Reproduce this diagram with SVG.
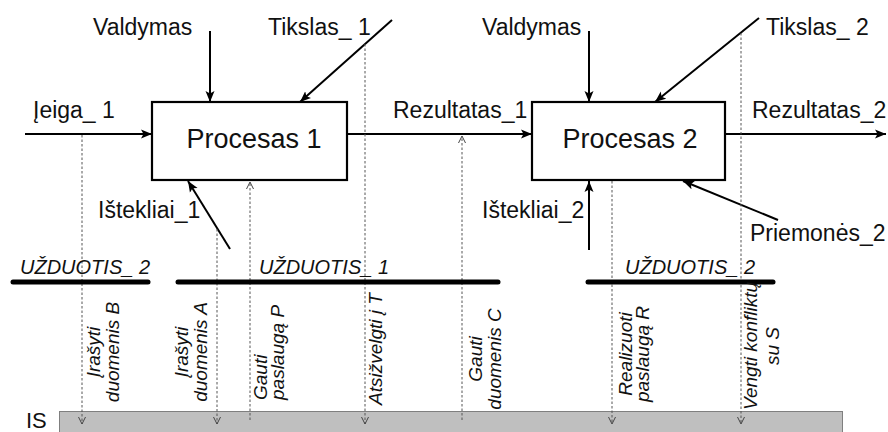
<svg xmlns="http://www.w3.org/2000/svg" width="888" height="432" viewBox="0 0 888 432">
<style>
.lbl{font-family:"Liberation Sans",Arial,sans-serif;font-size:23px;fill:#111}
.proc{font-family:"Liberation Sans",Arial,sans-serif;font-size:27px;fill:#111}
.task{font-family:"Liberation Sans",Arial,sans-serif;font-size:20px;font-style:italic;fill:#111}
.vt{font-family:"Liberation Sans",Arial,sans-serif;font-size:19px;font-style:italic;fill:#111}
.ln{stroke:#000;stroke-width:2;fill:none}
.box{stroke:#000;stroke-width:2.2;fill:#fff}
.ds{stroke:#555;stroke-width:1;stroke-dasharray:2.5 2;fill:none}
.bar{stroke:#000;stroke-width:5;stroke-linecap:round}
</style>
<defs>
<marker id="ah" markerWidth="12" markerHeight="10" refX="11" refY="5" orient="auto" markerUnits="userSpaceOnUse"><path d="M0,0.5 L11,5 L0,9.5 L2.5,5 z" fill="#000"/></marker>
<marker id="va" markerWidth="10" markerHeight="10" refX="7" refY="4" orient="auto" markerUnits="userSpaceOnUse"><path d="M0,0.5 L7,4 L0,7.5" fill="none" stroke="#444" stroke-width="1"/></marker>
</defs>
<rect width="888" height="432" fill="#fff"/>
<g id="is">
<rect x="59.5" y="411.5" width="783" height="30" fill="#bfbfbf" stroke="#7f7f7f" stroke-width="1"/>
<text class="lbl" x="26" y="428" style="font-size:22px">IS</text>
</g>
<g id="connectors">
<line class="ln" x1="25" y1="134" x2="152" y2="134" marker-end="url(#ah)"/>
<line class="ln" x1="210" y1="31" x2="210" y2="102" marker-end="url(#ah)"/>
<line class="ln" x1="392" y1="20" x2="300" y2="102" marker-end="url(#ah)"/>
<line class="ln" x1="347" y1="134" x2="532" y2="134" marker-end="url(#ah)"/>
<line class="ln" x1="230" y1="249" x2="188" y2="181" marker-end="url(#ah)"/>
<line class="ln" x1="589" y1="31" x2="589" y2="102" marker-end="url(#ah)"/>
<line class="ln" x1="759" y1="18" x2="655" y2="102" marker-end="url(#ah)"/>
<line class="ln" x1="725" y1="134" x2="886" y2="134" marker-end="url(#ah)"/>
<line class="ln" x1="589" y1="250" x2="589" y2="181" marker-end="url(#ah)"/>
<line class="ln" x1="778" y1="220" x2="683" y2="181" marker-end="url(#ah)"/>
<line class="ds" x1="82" y1="135" x2="82" y2="424" marker-end="url(#va)"/>
<line class="ds" x1="217" y1="229" x2="217" y2="424" marker-end="url(#va)"/>
<line class="ds" x1="250" y1="420" x2="250" y2="182" marker-end="url(#va)"/>
<line class="ds" x1="365" y1="44" x2="365" y2="424" marker-end="url(#va)"/>
<line class="ds" x1="462" y1="420" x2="462" y2="136" marker-end="url(#va)"/>
<line class="ds" x1="612" y1="181" x2="612" y2="424" marker-end="url(#va)"/>
<line class="ds" x1="741" y1="33" x2="741" y2="424" marker-end="url(#va)"/>
</g>
<g id="labels">
<text class="lbl" x="33" y="118">Įeiga_ 1</text>
<text class="lbl" x="93" y="35">Valdymas</text>
<text class="lbl" x="268" y="35">Tikslas_ 1</text>
<text class="lbl" x="393" y="118">Rezultatas_1</text>
<text class="lbl" x="482" y="35">Valdymas</text>
<text class="lbl" x="766" y="35">Tikslas_ 2</text>
<text class="lbl" x="752" y="118">Rezultatas_2</text>
<text class="lbl" x="98" y="218">Ištekliai_1</text>
<text class="lbl" x="482" y="218">Ištekliai_2</text>
<text class="lbl" x="750" y="241">Priemonės_2</text>
</g>
<g id="proc1">
<rect class="box" x="152" y="102" width="195" height="78"/>
<text class="proc" x="254" y="148" text-anchor="middle">Procesas 1</text>
</g>
<g id="proc2">
<rect class="box" x="532" y="102" width="193" height="78"/>
<text class="proc" x="630" y="148" text-anchor="middle">Procesas 2</text>
</g>
<g id="task2a">
<line class="bar" x1="13" y1="282" x2="148" y2="282"/>
<text class="task" x="20" y="274">UŽDUOTIS_ 2</text>
</g>
<g id="task1">
<line class="bar" x1="178" y1="282" x2="498" y2="282"/>
<text class="task" x="259" y="274">UŽDUOTIS_ 1</text>
</g>
<g id="task2b">
<line class="bar" x1="588" y1="282" x2="773" y2="282"/>
<text class="task" x="625" y="274">UŽDUOTIS_ 2</text>
</g>
<g id="vlabels">
<text class="vt" transform="translate(100,352) rotate(-90)" text-anchor="middle"><tspan x="0" y="0">Įrašyti</tspan><tspan x="0" y="19">duomenis B</tspan></text>
<text class="vt" transform="translate(188,352) rotate(-90)" text-anchor="middle"><tspan x="0" y="0">Įrašyti</tspan><tspan x="0" y="19">duomenis A</tspan></text>
<text class="vt" transform="translate(267,400) rotate(-90)"><tspan x="0" y="0">Gauti</tspan><tspan x="0" y="17">paslaugą P</tspan></text>
<text class="vt" transform="translate(382,405) rotate(-90)">Atsižvelgti į T</text>
<text class="vt" transform="translate(482,359) rotate(-90)" text-anchor="middle"><tspan x="0" y="0">Gauti</tspan><tspan x="0" y="19">duomenis C</tspan></text>
<text class="vt" transform="translate(632,354) rotate(-90)" text-anchor="middle"><tspan x="0" y="0">Realizuoti</tspan><tspan x="0" y="17">paslaugą R</tspan></text>
<text class="vt" transform="translate(757,346) rotate(-90)" text-anchor="middle"><tspan x="0" y="0">Vengti konfliktų</tspan><tspan x="0" y="22">su S</tspan></text>
</g>
</svg>
